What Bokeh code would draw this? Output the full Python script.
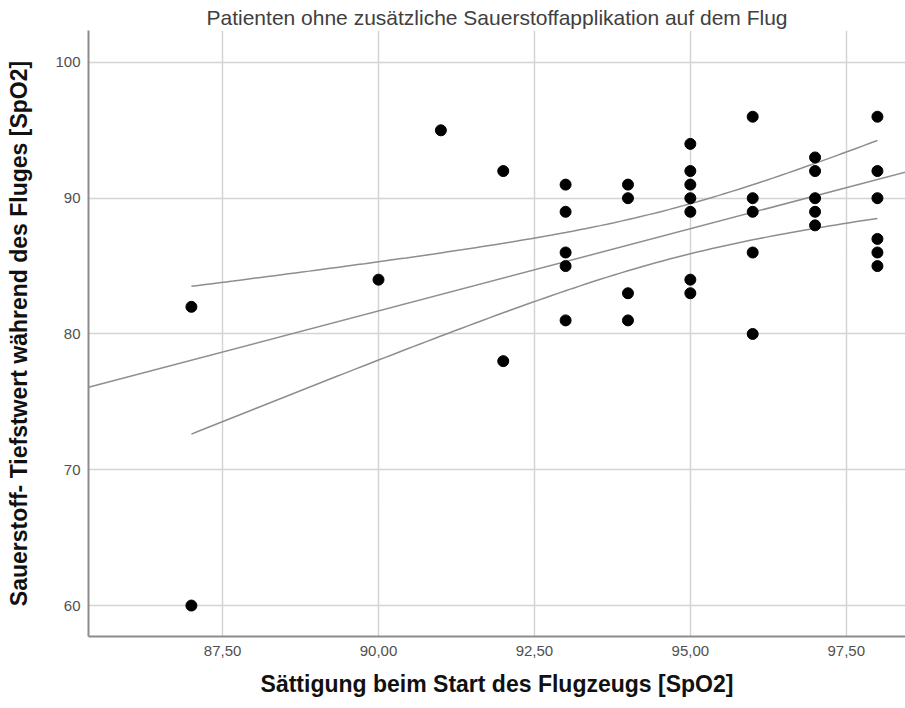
import numpy as np
from bokeh.plotting import figure
from bokeh.models import Range1d, FixedTicker
from bokeh.embed import file_html
from bokeh.resources import INLINE

# Data
sat_start = [87, 87, 90, 91, 92, 92,
             93, 93, 93, 93, 93,
             94, 94, 94, 94,
             95, 95, 95, 95, 95, 95, 95,
             96, 96, 96, 96, 96,
             97, 97, 97, 97, 97,
             98, 98, 98, 98, 98, 98]
sat_min = [82, 60, 84, 95, 92, 78,
           91, 89, 86, 85, 81,
           91, 90, 83, 81,
           94, 92, 91, 90, 89, 84, 83,
           96, 90, 89, 86, 80,
           93, 92, 90, 89, 88,
           96, 92, 90, 87, 86, 85]

x_ticks = [87.5, 90.0, 92.5, 95.0, 97.5]
x_tick_labels = ["87,50", "90,00", "92,50", "95,00", "97,50"]
y_ticks = [60, 70, 80, 90, 100]
y_tick_labels = ["60", "70", "80", "90", "100"]

title_text = "Patienten ohne zusätzliche Sauerstoffapplikation auf dem Flug"
x_label = "Sättigung beim Start des Flugzeugs [SpO2]"
y_label = "Sauerstoff- Tiefstwert während des Fluges [SpO2]"

X_START, X_END = 85.35, 98.45
Y_START, Y_END = 57.72, 102.35

# Linear fit with 95% confidence band of the mean
x = np.array(sat_start, dtype=float)
y = np.array(sat_min, dtype=float)
n = len(x)
slope, intercept = np.polyfit(x, y, 1)
resid = y - (slope * x + intercept)
s = np.sqrt(np.sum(resid ** 2) / (n - 2))
sxx = np.sum((x - x.mean()) ** 2)
t_val = 2.028  # t(0.975, df=36)

xf = np.array([X_START, X_END])
yf = slope * xf + intercept

xb = np.linspace(x.min(), x.max(), 100)
yb = slope * xb + intercept
hw = t_val * s * np.sqrt(1.0 / n + (xb - x.mean()) ** 2 / sxx)

FONT = "Liberation Sans"

p = figure(width=905, height=704, output_backend="svg", toolbar_location=None,
           x_range=Range1d(X_START, X_END), y_range=Range1d(Y_START, Y_END),
           min_border_left=88, min_border_right=0, min_border_top=30,
           min_border_bottom=68)

p.title.text = title_text
p.title.align = "center"
p.title.offset = 18
p.title.text_font = FONT
p.title.text_font_size = "21px"
p.title.text_font_style = "normal"
p.title.text_color = "#404040"
p.title.standoff = 3

p.outline_line_color = None
p.background_fill_color = "white"
p.border_fill_color = "white"

for ax in (p.xaxis[0], p.yaxis[0]):
    ax.axis_line_color = "#8c8c8c"
    ax.axis_line_width = 2
    ax.major_tick_line_color = None
    ax.minor_tick_line_color = None
    ax.major_tick_out = 0
    ax.major_tick_in = 0
    ax.major_label_text_font = FONT
    ax.major_label_text_font_size = "15px"
    ax.major_label_text_color = "#505050"
    ax.axis_label_text_font = FONT
    ax.axis_label_text_font_size = "23px"
    ax.axis_label_text_font_style = "bold"
    ax.axis_label_text_color = "#111111"

p.xaxis.ticker = FixedTicker(ticks=x_ticks)
p.xaxis.major_label_overrides = dict(zip(x_ticks, x_tick_labels))
p.yaxis.ticker = FixedTicker(ticks=y_ticks)
p.yaxis.major_label_overrides = dict(zip(y_ticks, y_tick_labels))
p.xaxis.axis_label = x_label
p.yaxis.axis_label = y_label
p.xaxis.major_label_standoff = 9
p.xaxis.axis_label_standoff = 12
p.yaxis.major_label_standoff = 8
p.yaxis.axis_label_standoff = 20

p.xgrid.grid_line_color = "#d4d4d4"
p.ygrid.grid_line_color = "#d4d4d4"
p.xgrid.grid_line_width = 1.5
p.ygrid.grid_line_width = 1.5

p.line(xf, yf, line_color="#8c8f8c", line_width=1.5)
p.line(xb, yb + hw, line_color="#8c8f8c", line_width=1.5)
p.line(xb, yb - hw, line_color="#8c8f8c", line_width=1.5)

p.scatter(sat_start, sat_min, size=11, color="black")

open("out.html", "w").write(file_html(p, INLINE))
